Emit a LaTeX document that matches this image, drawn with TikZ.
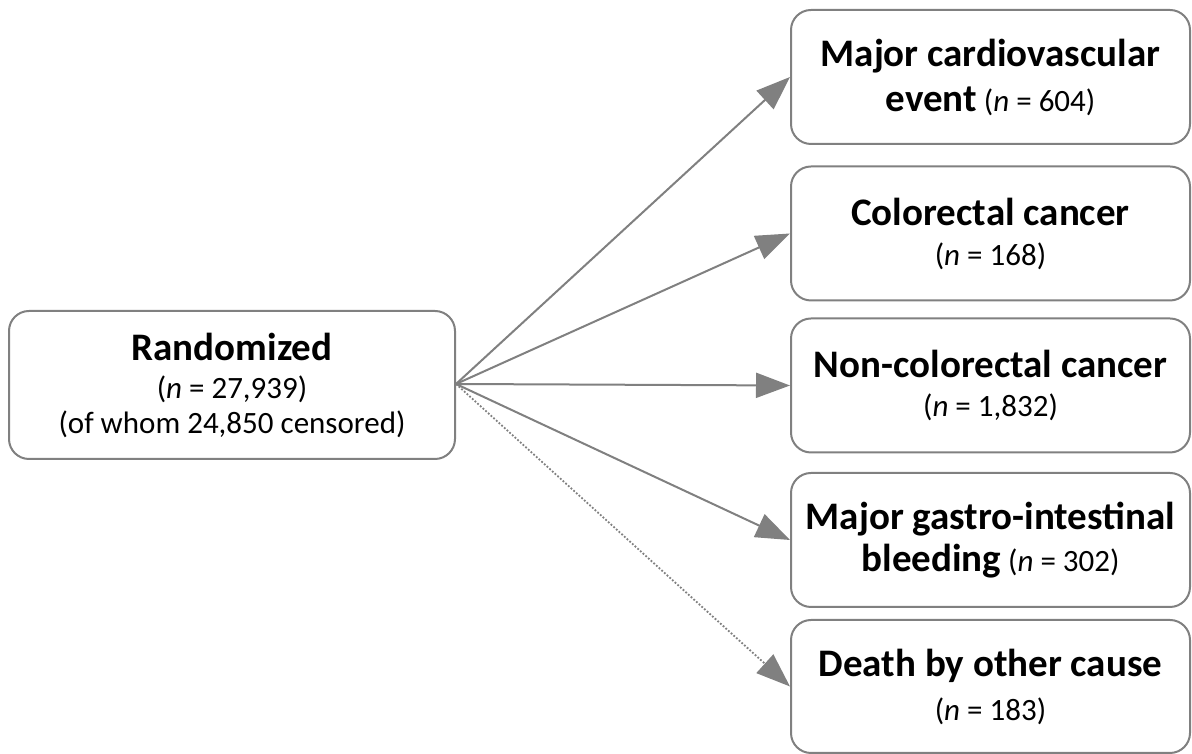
\documentclass[tikz,border=0pt]{standalone}
\usepackage{fontspec}
\setmainfont{Carlito}
\usetikzlibrary{arrows.meta}
\definecolor{linegray}{HTML}{808080}
\newcommand{\bigb}[1]{{\fontsize{39}{46}\selectfont\bfseries #1}}
\newcommand{\rg}[1]{{\fontsize{31}{37}\selectfont #1}}
\tikzset{
  box/.style={draw=linegray, line width=2pt, rounded corners=20pt, fill=white,
    align=center, inner sep=0pt, font=\fontsize{31}{37}\selectfont},
  rbox/.style={box, minimum width=399pt, minimum height=134pt},
  conn/.style={draw=linegray, line width=2pt, -{Triangle[length=34pt,width=25pt]}},
  dotconn/.style={draw=linegray, line width=1.8pt, dash pattern=on 1.8pt off 1.8pt, -{Triangle[length=34pt,width=25pt]}}
}
\begin{document}
\begin{tikzpicture}[x=1pt,y=1pt]
\useasboundingbox (0,0) rectangle (1192,754);
\node[box, minimum width=446pt, minimum height=148pt] (rand) at (232,369)
  {\bigb{Randomized}\\[1pt] \rg{(\textit{n} = 27,939)}\\[-2pt] \rg{(of whom 24,850 censored)}};
\node[rbox] (mce) at (990.5,677) {\bigb{Major cardiovascular}\\[8pt] \bigb{event} \rg{(\textit{n} = 604)}};
\node[rbox] (crc) at (990.5,520.5) {\bigb{Colorectal cancer}\\[3pt] \rg{(\textit{n} = 168)}};
\node[rbox] (ncc) at (990.5,368.5) {\bigb{Non-colorectal cancer}\\[2pt] \rg{(\textit{n} = 1,832)}};
\node[rbox] (gib) at (990.5,214) {\bigb{Major gastro-intestinal}\\[5pt] \bigb{bleeding} \rg{(\textit{n} = 302)}};
\node[rbox, minimum height=133pt] (dth) at (990.5,67.5) {\bigb{Death by other cause}\\[7pt] \rg{(\textit{n} = 183)}};
\coordinate (src) at ([yshift=1pt]rand.east);
\draw[conn] (src) -- (mce.west);
\draw[conn] (src) -- (crc.west);
\draw[conn] (src) -- (ncc.west);
\draw[conn] (src) -- (gib.west);
\draw[dotconn] (src) -- (dth.west);
\end{tikzpicture}
\end{document}
